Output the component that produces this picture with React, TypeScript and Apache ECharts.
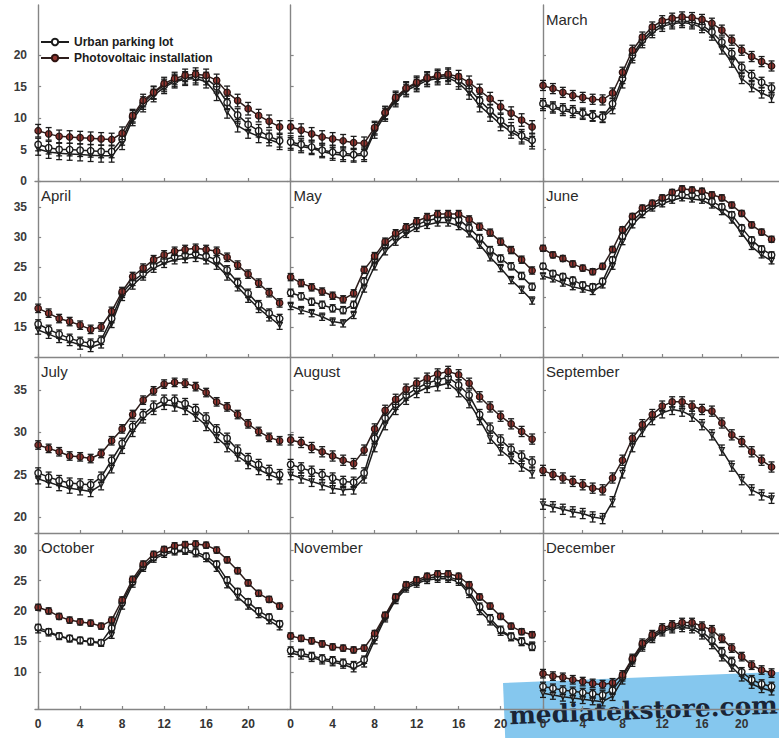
import React, { useEffect, useRef } from "react";
import * as echarts from "echarts";

const HOURS = [0, 1, 2, 3, 4, 5, 6, 7, 8, 9, 10, 11, 12, 13, 14, 15, 16, 17, 18, 19, 20, 21, 22, 23];
const HOUR_TICKS = [0, 4, 8, 12, 16, 20];
const MONTH_LABELS = ["", "", "March", "April", "May", "June", "July", "August", "September", "October", "November", "December"];
const LEGEND_URBAN = "Urban parking lot";
const LEGEND_PV = "Photovoltaic installation";

// y ranges and tick labels per row of panels
const ROW_MIN = [0, 10, 18.1, 3.9];
const ROW_MAX = [28, 39.3, 38.9, 32.8];
const ROW_TICKS = [
  [0, 5, 10, 15, 20],
  [15, 20, 25, 30, 35],
  [20, 25, 30, 35],
  [10, 15, 20, 25, 30],
];

// Photovoltaic installation (filled markers)
const pvJan = [8.0, 7.5, 7.1, 7.0, 6.9, 6.8, 6.7, 6.6, 7.6, 10.4, 12.8, 14.1, 15.5, 16.3, 16.8, 17.0, 16.8, 16.0, 14.1, 12.8, 11.5, 10.4, 9.5, 8.6];
const pvFeb = [8.6, 8.1, 7.5, 7.0, 6.7, 6.4, 6.1, 6.0, 8.5, 10.9, 13.3, 14.8, 15.7, 16.4, 16.8, 17.0, 16.6, 15.7, 14.4, 13.1, 11.8, 10.8, 9.7, 8.6];
const pvMar = [15.2, 14.7, 14.1, 13.6, 13.3, 13.0, 12.9, 14.0, 17.3, 20.8, 22.9, 24.5, 25.5, 25.9, 26.1, 26.0, 25.7, 25.1, 24.0, 22.4, 20.8, 19.8, 19.0, 18.3];
const pvApr = [18.1, 17.3, 16.4, 15.9, 15.3, 14.6, 15.0, 17.6, 20.9, 23.4, 24.8, 26.2, 27.0, 27.6, 27.9, 28.1, 27.9, 27.6, 26.6, 25.3, 23.8, 22.3, 20.7, 19.0];
const pvMay = [23.3, 22.3, 21.6, 20.9, 20.2, 19.6, 20.6, 24.5, 26.8, 29.2, 30.6, 31.6, 32.6, 33.3, 33.8, 33.8, 33.8, 32.9, 31.7, 30.7, 29.2, 27.8, 26.2, 24.4];
const pvJun = [28.1, 27.0, 26.4, 25.5, 24.8, 24.2, 25.1, 27.9, 31.2, 33.4, 34.8, 35.6, 36.5, 37.4, 38.0, 37.8, 37.6, 37.0, 36.5, 35.3, 33.9, 32.0, 30.8, 29.6];
const pvJul = [28.5, 28.1, 27.7, 27.2, 27.1, 26.9, 27.5, 29.0, 30.4, 32.1, 33.8, 34.9, 35.7, 35.9, 35.8, 35.4, 34.7, 33.6, 33.0, 32.1, 31.0, 30.1, 29.4, 29.0];
const pvAug = [29.1, 28.8, 28.2, 27.7, 27.2, 26.7, 26.3, 27.9, 30.4, 32.6, 33.9, 35.1, 35.8, 36.4, 36.9, 37.2, 36.8, 35.8, 34.2, 33.0, 31.9, 31.0, 30.1, 29.2];
const pvSep = [25.5, 25.0, 24.6, 24.2, 23.8, 23.4, 23.2, 24.6, 26.7, 29.3, 30.9, 32.1, 33.1, 33.6, 33.6, 33.1, 32.7, 32.5, 31.1, 29.7, 28.9, 27.7, 26.7, 25.9];
const pvOct = [20.6, 20.0, 19.1, 18.5, 18.2, 18.0, 17.5, 18.5, 21.8, 25.2, 27.7, 29.3, 30.1, 30.7, 30.9, 31.0, 30.8, 30.0, 28.4, 26.6, 24.6, 22.9, 21.9, 20.8];
const pvNov = [15.9, 15.5, 15.1, 14.6, 14.1, 13.9, 13.6, 13.9, 16.3, 19.3, 22.3, 24.3, 25.1, 25.7, 26.1, 26.1, 25.7, 24.3, 22.3, 20.8, 19.1, 17.5, 16.6, 16.1];
const pvDec = [9.7, 9.3, 9.1, 8.7, 8.4, 8.1, 7.9, 8.2, 9.5, 12.2, 14.7, 16.1, 17.2, 17.7, 18.1, 18.1, 17.5, 16.9, 15.5, 13.9, 12.5, 11.1, 10.3, 9.8];

// Urban parking lot (open markers)
const urbanJan = [5.8, 5.3, 5.0, 5.0, 4.9, 4.8, 4.7, 4.7, 6.7, 10.2, 12.4, 14.0, 15.2, 16.0, 16.4, 16.6, 16.3, 15.0, 12.5, 10.5, 9.0, 8.0, 7.1, 6.4];
const urbanFeb = [6.2, 5.8, 5.4, 4.9, 4.6, 4.4, 4.2, 4.4, 8.3, 10.8, 13.1, 14.7, 15.5, 16.3, 16.6, 16.8, 16.0, 14.7, 12.8, 11.2, 9.6, 8.3, 7.2, 6.5];
const urbanMar = [12.3, 11.8, 11.5, 11.2, 10.8, 10.4, 10.2, 12.3, 16.3, 20.0, 22.4, 24.0, 25.0, 25.3, 25.5, 25.3, 24.8, 23.7, 22.1, 20.3, 18.1, 16.8, 15.7, 14.8];
const urbanApr = [15.5, 14.6, 13.8, 13.1, 12.6, 12.3, 12.8, 16.4, 20.6, 22.6, 23.9, 25.3, 26.2, 26.7, 27.0, 27.2, 26.8, 26.2, 24.5, 22.4, 20.6, 18.7, 17.3, 16.4];
const urbanMay = [20.7, 20.1, 19.2, 18.7, 18.1, 17.8, 18.7, 22.6, 26.3, 28.7, 30.1, 31.2, 32.0, 32.7, 33.1, 33.3, 32.9, 31.5, 29.8, 27.8, 26.4, 25.1, 23.5, 21.7];
const urbanJun = [25.1, 23.9, 23.4, 22.8, 22.0, 21.7, 22.6, 26.2, 30.1, 32.6, 34.2, 35.2, 35.9, 36.6, 37.0, 37.0, 36.7, 35.9, 35.0, 33.7, 31.5, 29.5, 28.0, 27.0];
const urbanJul = [25.2, 24.7, 24.3, 24.0, 23.9, 23.8, 24.7, 26.7, 28.7, 30.7, 32.1, 33.1, 33.8, 33.8, 33.4, 32.7, 31.7, 30.3, 29.3, 27.9, 26.9, 26.2, 25.5, 25.0];
const urbanAug = [26.2, 25.8, 25.4, 25.0, 24.6, 24.2, 24.1, 25.2, 29.3, 31.7, 33.3, 34.4, 35.2, 35.8, 36.2, 36.5, 35.6, 34.4, 32.1, 30.5, 29.1, 28.0, 27.2, 26.5];
const urbanSep = [null, null, null, null, null, null, null, null, null, null, null, null, null, null, null, null, null, null, null, null, null, null, null, null];
const urbanOct = [17.3, 16.6, 15.9, 15.5, 15.2, 15.0, 14.8, 17.2, 21.4, 24.8, 27.3, 28.8, 29.6, 29.9, 30.0, 29.7, 29.0, 27.7, 25.1, 23.2, 21.5, 20.0, 19.0, 17.9];
const urbanNov = [13.5, 13.1, 12.6, 12.2, 11.9, 11.5, 11.1, 12.0, 15.8, 19.1, 22.1, 24.0, 24.8, 25.4, 25.6, 25.6, 25.1, 23.2, 20.7, 18.8, 16.9, 15.8, 15.0, 14.1];
const urbanDec = [7.6, 7.3, 7.0, 6.8, 6.6, 6.4, 6.2, 7.0, 9.2, 12.0, 14.4, 15.8, 16.9, 17.4, 17.7, 17.5, 16.6, 15.2, 13.3, 11.7, 10.0, 8.7, 8.0, 7.6];

// third, unlabelled series (lowest curve, bar-only markers)
const refJan = [5.1, 4.6, 4.4, 4.3, 4.2, 4.1, 4.0, 4.0, 6.0, 9.8, 12.0, 13.6, 14.9, 15.8, 16.2, 16.3, 15.8, 13.8, 11.0, 8.8, 7.8, 7.1, 6.6, 6.0];
const refFeb = [5.9, 5.5, 5.2, 4.7, 4.3, 4.1, 4.0, 4.1, 7.8, 10.5, 12.8, 14.4, 15.2, 16.0, 16.3, 16.4, 15.6, 14.0, 12.0, 10.5, 9.0, 7.8, 6.9, 6.1];
const refMar = [12.0, 11.6, 11.2, 10.9, 10.6, 10.3, 10.1, 11.5, 15.6, 19.6, 22.0, 23.6, 24.6, 25.0, 25.2, 25.0, 24.4, 23.2, 21.0, 18.9, 16.3, 15.0, 14.0, 13.3];
const refApr = [14.5, 13.8, 13.1, 12.6, 12.0, 11.6, 12.2, 15.6, 20.1, 22.0, 23.5, 24.8, 25.6, 26.2, 26.4, 26.6, 26.2, 25.3, 23.5, 21.7, 19.8, 18.1, 16.7, 15.3];
const refMay = [18.5, 17.8, 17.3, 16.7, 15.9, 15.6, 17.0, 21.4, 25.1, 27.6, 29.2, 30.5, 31.5, 32.0, 32.4, 32.4, 31.8, 30.6, 28.7, 26.6, 24.8, 22.8, 21.2, 19.4];
const refJun = [23.5, 23.0, 22.3, 21.7, 21.3, 20.9, 22.0, 25.1, 29.2, 32.0, 33.7, 34.8, 35.5, 36.1, 36.5, 36.3, 36.1, 35.3, 34.2, 32.8, 30.6, 28.4, 27.0, 26.0];
const refJul = [24.5, 24.1, 23.7, 23.4, 23.2, 23.0, 23.8, 25.8, 28.1, 30.1, 31.7, 32.7, 33.3, 33.1, 32.7, 31.9, 30.8, 29.4, 28.3, 27.2, 26.3, 25.6, 25.0, 24.5];
const refAug = [25.0, 24.6, 24.2, 23.8, 23.4, 23.2, 23.3, 24.6, 28.3, 30.9, 32.7, 33.9, 34.7, 35.3, 35.5, 35.8, 34.8, 33.5, 31.5, 29.3, 27.9, 26.9, 26.0, 25.2];
const refSep = [21.5, 21.2, 20.9, 20.6, 20.4, 20.0, 19.8, 21.8, 25.2, 28.3, 30.1, 31.5, 32.3, 32.7, 32.5, 31.9, 30.9, 29.7, 27.9, 26.0, 24.4, 23.2, 22.6, 22.2];
const refOct = [16.9, 16.4, 15.8, 15.4, 15.1, 14.9, 14.7, 16.0, 20.8, 24.4, 27.0, 28.5, 29.3, 29.7, 29.8, 29.4, 28.6, 27.0, 24.3, 22.3, 20.8, 19.4, 18.4, 17.4];
const refNov = [13.1, 12.7, 12.3, 11.9, 11.6, 11.2, 10.6, 11.4, 15.2, 18.8, 21.8, 23.7, 24.5, 25.1, 25.3, 25.3, 24.8, 22.8, 20.0, 18.3, 16.6, 15.7, 14.9, 14.3];
const refDec = [6.5, 6.2, 5.9, 5.7, 5.5, 5.3, 5.1, 6.0, 8.7, 11.6, 14.1, 15.5, 16.6, 17.1, 17.3, 17.1, 16.1, 14.5, 12.5, 10.8, 9.2, 8.0, 7.3, 6.9];

// error bar half-widths per month
const ERR_PV = [1.0, 1.0, 0.8, 0.7, 0.6, 0.5, 0.5, 0.6, 0.6, 0.5, 0.5, 0.7];
const ERR_URBAN = [1.0, 1.0, 0.8, 0.7, 0.6, 0.5, 0.6, 0.6, 0.6, 0.5, 0.6, 0.7];
const ERR_REF = [1.0, 1.0, 0.8, 0.7, 0.6, 0.5, 0.6, 0.6, 0.6, 0.5, 0.6, 0.7];

const PV = [pvJan, pvFeb, pvMar, pvApr, pvMay, pvJun, pvJul, pvAug, pvSep, pvOct, pvNov, pvDec];
const URBAN = [urbanJan, urbanFeb, urbanMar, urbanApr, urbanMay, urbanJun, urbanJul, urbanAug, urbanSep, urbanOct, urbanNov, urbanDec];
const REF = [refJan, refFeb, refMar, refApr, refMay, refJun, refJul, refAug, refSep, refOct, refNov, refDec];

// layout
const COL_LEFT = [35, 287.5, 540];
const COL_W = 252.5;
const ROW_TOP = [5, 181, 357, 533];
const ROW_H = 176;
const X_MIN = -0.3;
const X_MAX = 23.75;

const FONT = '"Liberation Sans", Arial, sans-serif';
const AXIS_COLOR = "#858585";
const INK = "#1c1c1c";

function errRender(params: any, api: any) {
  const x = api.value(0);
  const y = api.value(1);
  const e = api.value(2);
  if (y == null || isNaN(y)) return null;
  const p1 = api.coord([x, y + e]);
  const p2 = api.coord([x, y - e]);
  const hw = 3;
  const style = { stroke: INK, lineWidth: 1.3 };
  return {
    type: "group",
    children: [
      { type: "line", shape: { x1: p1[0], y1: p1[1], x2: p2[0], y2: p2[1] }, style },
      { type: "line", shape: { x1: p1[0] - hw, y1: p1[1], x2: p1[0] + hw, y2: p1[1] }, style },
      { type: "line", shape: { x1: p2[0] - hw, y1: p2[1], x2: p2[0] + hw, y2: p2[1] }, style },
    ],
  };
}

function buildOption() {
  const grid: any[] = [];
  const xAxis: any[] = [];
  const yAxis: any[] = [];
  const series: any[] = [];
  const graphic: any[] = [];

  for (let i = 0; i < 12; i++) {
    const r = Math.floor(i / 3);
    const c = i % 3;
    grid.push({ left: COL_LEFT[c], top: ROW_TOP[r], width: COL_W, height: ROW_H, show: false });
    xAxis.push({
      gridIndex: i,
      type: "value",
      min: X_MIN,
      max: X_MAX,
      axisLine: { show: true, lineStyle: { color: AXIS_COLOR, width: 1.4 } },
      axisTick: { show: true, inside: true, length: 3, customValues: HOUR_TICKS, lineStyle: { color: AXIS_COLOR, width: 1.2 } },
      axisLabel: {
        show: r === 3,
        customValues: HOUR_TICKS,
        margin: 9,
        fontSize: 12,
        fontWeight: "bold",
        color: "#333",
        fontFamily: FONT,
      },
      splitLine: { show: false },
    });
    yAxis.push({
      gridIndex: i,
      type: "value",
      min: ROW_MIN[r],
      max: ROW_MAX[r],
      axisLine: { show: true, lineStyle: { color: AXIS_COLOR, width: 1.4 } },
      axisTick: { show: true, inside: true, length: 3, customValues: ROW_TICKS[r], lineStyle: { color: AXIS_COLOR, width: 1.2 } },
      axisLabel: {
        show: c === 0,
        customValues: ROW_TICKS[r],
        margin: 8,
        fontSize: 12,
        fontWeight: "bold",
        color: "#3a3a3a",
        fontFamily: FONT,
      },
      splitLine: { show: false },
    });

    const groups = [
      {
        name: "Air",
        vals: REF[i],
        err: ERR_REF[i],
        symbol: "path://M0,0L10,0L5,9Z",
        size: 5,
        item: { color: "#fff", borderColor: INK, borderWidth: 1.2 },
        line: INK,
      },
      {
        name: LEGEND_URBAN,
        vals: URBAN[i],
        err: ERR_URBAN[i],
        symbol: "circle",
        size: 6.5,
        item: { color: "#fff", borderColor: INK, borderWidth: 1.4 },
        line: INK,
      },
      {
        name: LEGEND_PV,
        vals: PV[i],
        err: ERR_PV[i],
        symbol: "circle",
        size: 6.5,
        item: { color: "#913631", borderColor: "#2e1210", borderWidth: 1.2 },
        line: "#2e1e1c",
      },
    ];
    groups.forEach((g, k) => {
      const pts = HOURS.map((h, j) => [h, g.vals[j]]);
      series.push({
        type: "line",
        name: g.name,
        xAxisIndex: i,
        yAxisIndex: i,
        data: pts,
        symbol: g.symbol,
        symbolSize: g.size,
        showSymbol: true,
        connectNulls: false,
        itemStyle: g.item,
        lineStyle: { color: g.line, width: 1.5 },
        emphasis: { disabled: true },
        silent: true,
        z: 3 + k * 2,
      });
      series.push({
        type: "custom",
        name: g.name,
        xAxisIndex: i,
        yAxisIndex: i,
        renderItem: errRender,
        data: HOURS.filter((h, j) => g.vals[j] != null).map((h) => [h, g.vals[HOURS.indexOf(h)], g.err]),
        encode: { x: 0, y: 1 },
        silent: true,
        z: 4 + k * 2,
      });
    });

    if (MONTH_LABELS[i]) {
      graphic.push({
        type: "text",
        left: COL_LEFT[c] + 6,
        top: ROW_TOP[r] + 7,
        silent: true,
        style: { text: MONTH_LABELS[i], fontSize: 15, fill: "#2a2a2a", fontFamily: FONT },
      });
    }
  }

  graphic.push({
    type: "group",
    x: 503,
    y: 683,
    rotation: 0.04,
    silent: true,
    z: 100,
    children: [
      { type: "rect", shape: { x: 0, y: 0, width: 300, height: 75 }, style: { fill: "rgba(94,182,232,0.76)" } },
      {
        type: "text",
        x: 5,
        y: 33,
        style: {
          text: "mediatekstore.com",
          fill: "#1a2536",
          fontSize: 25,
          fontWeight: "bold",
          fontFamily: '"DejaVu Serif", serif',
          verticalAlign: "middle",
        },
      },
    ],
  });

  return {
    animation: false,
    backgroundColor: "#fff",
    textStyle: { fontFamily: FONT },
    legend: {
      data: [LEGEND_URBAN, LEGEND_PV],
      orient: "vertical",
      left: 40,
      top: 36,
      padding: 0,
      itemWidth: 28,
      itemHeight: 8,
      itemGap: 4,
      selectedMode: false,
      textStyle: { fontSize: 12, fontWeight: "bold", color: INK, fontFamily: FONT },
    },
    grid,
    xAxis,
    yAxis,
    series,
    graphic,
  };
}

export default function App() {
  const ref = useRef<HTMLDivElement>(null);
  useEffect(() => {
    if (!ref.current) return;
    const chart = echarts.init(ref.current, null, { renderer: "svg" });
    chart.setOption(buildOption() as any);
    return () => chart.dispose();
  }, []);
  return (
    <div
      ref={ref}
      style={{ position: "fixed", left: 0, top: 0, width: 779, height: 738, background: "#fff" }}
    />
  );
}
